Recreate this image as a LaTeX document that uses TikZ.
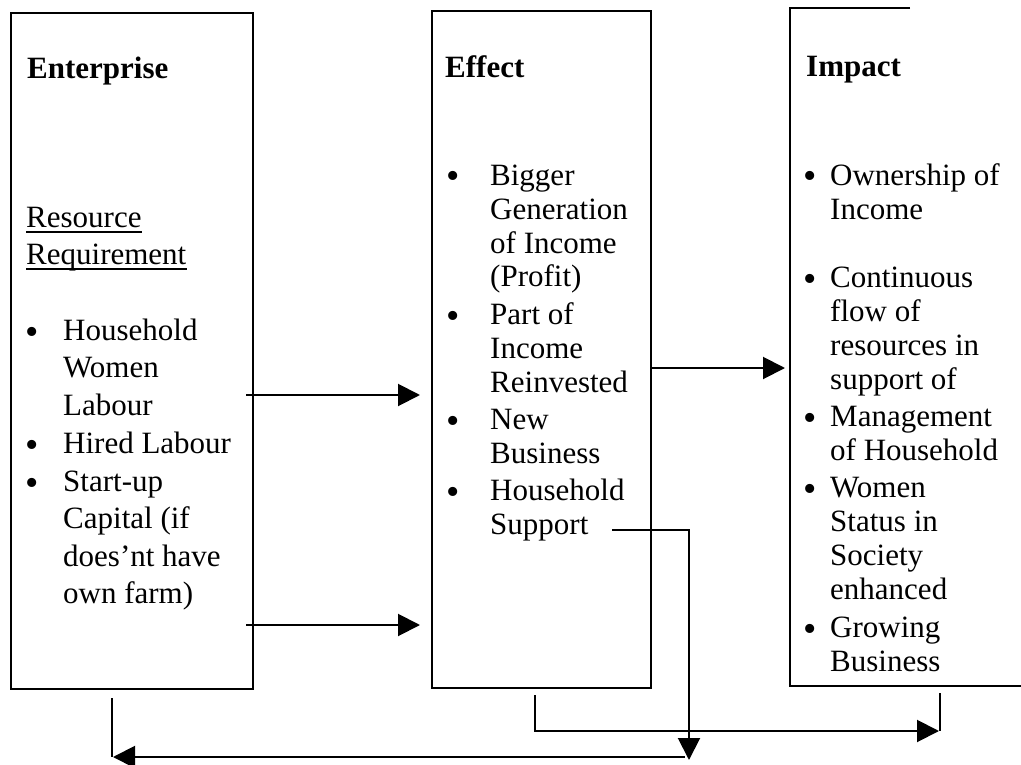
\documentclass[tikz,border=0pt]{standalone}
\usepackage{fontspec}
\setmainfont{Liberation Serif}
\usetikzlibrary{arrows.meta}
\begin{document}
\begin{tikzpicture}[x=1pt,y=-1pt,
  boxline/.style={line width=2pt,line join=miter},
  conn/.style={line width=2pt},
  arr/.style={conn,-{Triangle[length=22pt,width=22pt]}},
  txt/.style={anchor=base west,inner sep=0pt,font=\fontsize{31}{37.5}\selectfont,align=left},
  txtb/.style={txt,font=\fontsize{31}{34}\selectfont},
  head/.style={anchor=base west,inner sep=0pt,font=\fontsize{31}{37}\selectfont\bfseries},
  bul/.style={anchor=base,inner sep=0pt,yshift=-4pt,font=\fontsize{38}{38}\selectfont}]
\useasboundingbox (0,0) rectangle (1021,765);
% boxes
\node[boxline,draw,anchor=north west,inner sep=0pt,minimum width=242pt,minimum height=676pt] (ent) at (10,12) {};
\node[boxline,draw,anchor=north west,inner sep=0pt,minimum width=219pt,minimum height=677pt] (eff) at (431,10) {};
\node[anchor=north west,inner sep=0pt,minimum width=231pt,minimum height=678pt] (imp) at (790,8) {};
\draw[boxline] ([xshift=120pt]imp.north west) -- (imp.north west) -- (imp.south west) -- (imp.south east);
% Enterprise (multi-line nodes: base = last line)
\node[head] (enth) at (27,79) {Enterprise};
\node[txt] (res1) at (26,227) {Resource};
\node[txt] (res2) at (26,264) {Requirement};
\draw[line width=1.4pt] ([yshift=-5pt]res1.base west) -- ([yshift=-5pt]res1.base east);
\draw[line width=1.4pt] ([yshift=-5pt]res2.base west) -- ([yshift=-5pt]res2.base east);
\node[txt] (e1) at (63,415) {Household\\Women\\Labour};
\node[txt] (e2) at (63,453) {Hired Labour};
\node[txt] (e3) at (63,603.5) {Start-up\\Capital (if\\does’nt have\\own farm)};
\node[bul] (eb1) at (32,340) {•};
\node[bul] (eb2) at (32,453) {•};
\node[bul] (eb3) at (32,491) {•};
% Effect
\node[head] (effh) at (445,78) {Effect};
\node[txtb] (f1) at (490,287) {Bigger\\Generation\\of Income\\(Profit)};
\node[txtb] (f2) at (490,392) {Part of\\Income\\Reinvested};
\node[txtb] (f3) at (490,463) {New\\Business};
\node[txtb] (f4) at (490,534) {Household\\Support};
\node[bul] (fb1) at (453,185) {•};
\node[bul] (fb2) at (453,324) {•};
\node[bul] (fb3) at (453,429) {•};
\node[bul] (fb4) at (453,500) {•};
% Impact
\node[head] (imph) at (806,77) {Impact};
\node[txtb] (i1) at (830,219) {Ownership of\\Income};
\node[txtb] (i2) at (830,389) {Continuous\\flow of\\resources in\\support of};
\node[txtb] (i3) at (830,460) {Management\\of Household};
\node[txtb] (i4) at (830,599) {Women\\Status in\\Society\\enhanced};
\node[txtb] (i5) at (830,671) {Growing\\Business};
\node[bul] (ib1) at (810,185) {•};
\node[bul] (ib2) at (810,287) {•};
\node[bul] (ib3) at (810,426) {•};
\node[bul] (ib4) at (810,497) {•};
\node[bul] (ib5) at (810,637) {•};
% connector points
\coordinate (a1s) at (246,395); \coordinate (a1e) at (420,395);
\coordinate (a2s) at (246,625); \coordinate (a2e) at (420,625);
\coordinate (a3s) at (650,368); \coordinate (a3e) at (785,368);
\coordinate (s0) at (612,530); \coordinate (s1) at (689,530); \coordinate (s2) at (689,760);
\coordinate (b0) at (685,757); \coordinate (b1) at (113,757); \coordinate (v0) at (112,698); \coordinate (v1) at (112,757);
\coordinate (r0) at (535,695); \coordinate (r1) at (535,731); \coordinate (r2) at (939,731);
\coordinate (w0) at (940,693); \coordinate (w1) at (940,731);
% connectors
\draw[arr] (a1s) -- (a1e);
\draw[arr] (a2s) -- (a2e);
\draw[arr] (a3s) -- (a3e);
\draw[arr] (s0) -- (s1) -- (s2);
\draw[arr] (b0) -- (b1);
\draw[conn] (v0) -- (v1);
\draw[arr] (r0) -- (r1) -- (r2);
\draw[conn] (w0) -- (w1);
\end{tikzpicture}
\end{document}
